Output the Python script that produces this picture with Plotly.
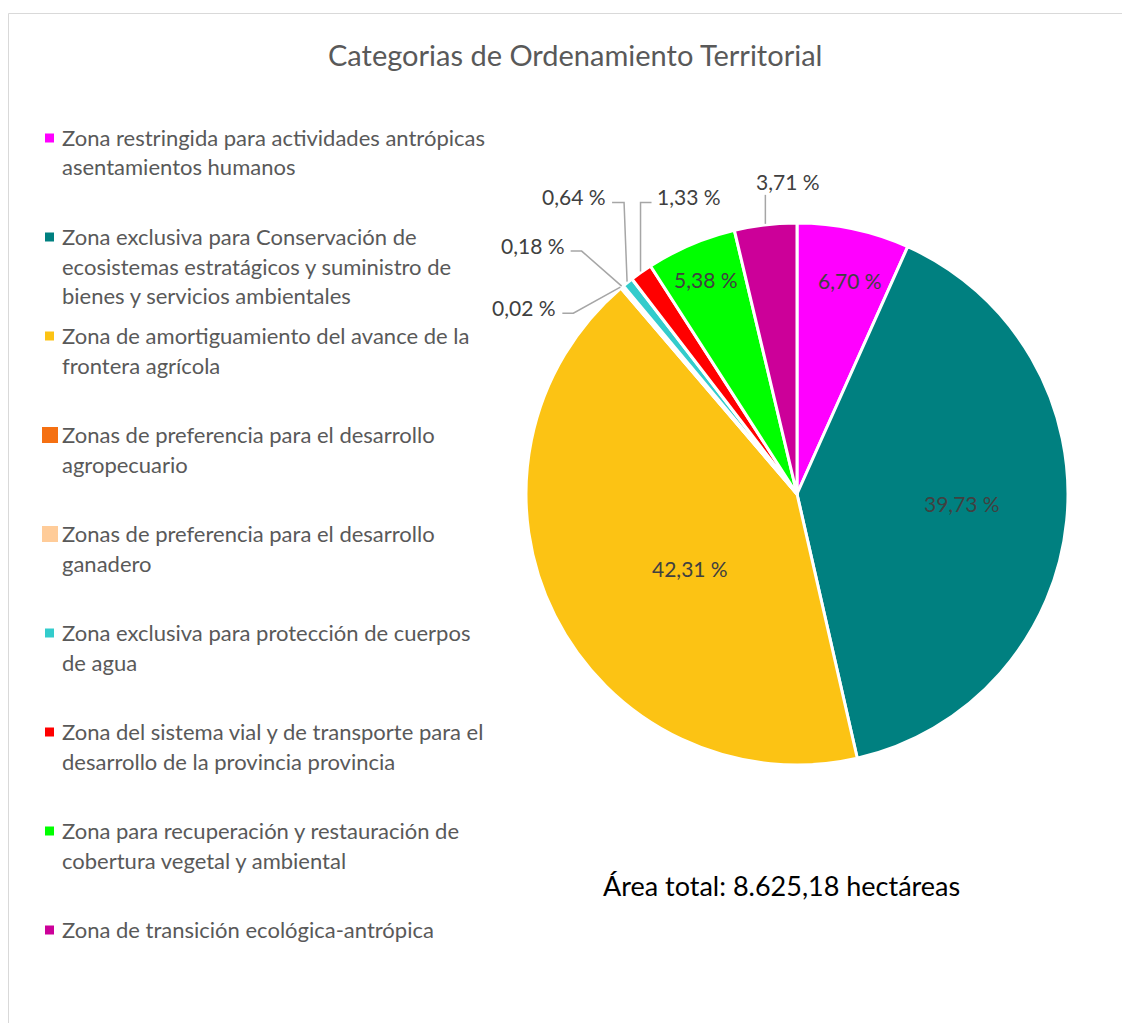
import math
import plotly.graph_objects as go

# ---------------- data ----------------
categories = [
    "Zona restringida para actividades antrópicas asentamientos humanos",
    "Zona exclusiva para Conservación de ecosistemas estratágicos y suministro de bienes y servicios ambientales",
    "Zona de amortiguamiento del avance de la frontera agrícola",
    "Zonas de preferencia para el desarrollo agropecuario",
    "Zonas de preferencia para el desarrollo ganadero",
    "Zona exclusiva para protección de cuerpos de agua",
    "Zona del sistema vial y de transporte para el desarrollo de la provincia provincia",
    "Zona para recuperación y restauración de cobertura vegetal y ambiental",
    "Zona de transición ecológica-antrópica",
]
legend_lines = [
    ["Zona restringida para actividades antrópicas", "asentamientos humanos"],
    ["Zona exclusiva para Conservación de", "ecosistemas estratágicos y suministro de", "bienes y servicios ambientales"],
    ["Zona de amortiguamiento del avance de la", "frontera agrícola"],
    ["Zonas de preferencia para el desarrollo", "agropecuario"],
    ["Zonas de preferencia para el desarrollo", "ganadero"],
    ["Zona exclusiva para protección de cuerpos", "de agua"],
    ["Zona del sistema vial y de transporte para el", "desarrollo de la provincia provincia"],
    ["Zona para recuperación y restauración de", "cobertura vegetal y ambiental"],
    ["Zona de transición ecológica-antrópica"],
]
percentages = [6.70, 39.73, 42.31, 0.02, 0.18, 0.64, 1.33, 5.38, 3.71]
colors = ["#FF00FF", "#008080", "#FCC314", "#F57012", "#FFCC99",
          "#33CCCC", "#FF0000", "#00FF00", "#CC0099"]
title_text = "Categorias de Ordenamiento Territorial"
total_text = "Área total: 8.625,18 hectáreas"

# ---------------- layout helpers ----------------
PAGE_OFF = 8                      # default page body margin
W, H = 1130 - PAGE_OFF, 1023 - PAGE_OFF
FONT = "Lato, 'Open Sans', sans-serif"
GREY = "#595959"
DARK = "#404040"


def px(x):
    return (x - PAGE_OFF) / W


def py(y):
    return 1 - (y - PAGE_OFF) / H


CX, CY, R = 797, 494, 271  # pie centre / radius in page pixels

labels_txt = [f"{v:.2f}".replace(".", ",") + " %" for v in percentages]

fig = go.Figure()
fig.add_trace(go.Pie(
    labels=categories,
    values=percentages,
    textinfo="none",
    sort=False,
    direction="clockwise",
    rotation=0,
    marker=dict(colors=colors, line=dict(color="white", width=3)),
    domain=dict(x=[px(CX - R), px(CX + R)], y=[py(CY + R), py(CY - R)]),
    showlegend=False,
    hoverinfo="label+percent",
))

annotations = []
shapes = []

# inside labels: (radius fraction, angle nudge in degrees)
inside_style = {0: (0.81, 1.8), 1: (0.61, -2.5), 2: (0.48, -8.0), 7: (0.86, 0.0)}
# outside labels with elbow leader lines, anchored on the rim at the slice mid-angle
outside_style = {
    3: dict(t=(-96, 20), elbow=(-47, 26), end=(-58, 26)),
    4: dict(t=(-89, -41), elbow=(-40, -35), end=(-51, -35)),
    5: dict(t=(-53, -85), elbow=(-3, -79), end=(-15, -79)),
    6: dict(t=(48, -75), elbow=(0, -69), end=(11, -69)),
    8: dict(t=(23, -42), elbow=(0, -2), end=(0, -29)),
}
total = sum(percentages)
cum = 0.0
for i, v in enumerate(percentages):
    mid = (cum + v / 2) / total * 2 * math.pi
    cum += v
    if i in inside_style:
        frac, nud = inside_style[i]
        a = mid + math.radians(nud)
        tx = CX + frac * R * math.sin(a)
        ty = CY - frac * R * math.cos(a)
        annotations.append(dict(x=px(tx), y=py(ty), xref="paper", yref="paper",
                                text=labels_txt[i], showarrow=False,
                                font=dict(family=FONT, size=21, color=DARK),
                                xanchor="center", yanchor="middle"))
        continue
    st = outside_style[i]
    ex = CX + (R + 1) * math.sin(mid)
    ey = CY - (R + 1) * math.cos(mid)
    tx, ty = ex + st["t"][0], ey + st["t"][1]
    bx, by = ex + st["elbow"][0], ey + st["elbow"][1]
    lx, ly = ex + st["end"][0], ey + st["end"][1]
    path = f"M {px(ex)},{py(ey)} L {px(bx)},{py(by)} L {px(lx)},{py(ly)}"
    shapes.append(dict(type="path", xref="paper", yref="paper", path=path,
                       line=dict(color="#A6A6A6", width=1.5)))
    annotations.append(dict(x=px(tx), y=py(ty), xref="paper", yref="paper",
                            text=labels_txt[i], showarrow=False,
                            font=dict(family=FONT, size=21, color=DARK),
                            xanchor="center", yanchor="middle"))

# manual legend: square marker + wrapped lines
LEG_X, LEG_Y0, LEG_STEP, LINE_H = 60, 137, 99, 30
for i, lines in enumerate(legend_lines):
    y0 = LEG_Y0 + i * LEG_STEP
    big = i in (3, 4)
    s = 8 if big else 4.5
    mx = 50 if big else 49.5
    my = y0 + 1
    shapes.append(dict(type="rect", xref="paper", yref="paper",
                       x0=px(mx - s), x1=px(mx + s), y0=py(my + s), y1=py(my - s),
                       fillcolor=colors[i], line=dict(width=0)))
    for j, ln in enumerate(lines):
        annotations.append(dict(x=px(LEG_X), y=py(y0 + j * LINE_H), xref="paper", yref="paper",
                                text=ln, showarrow=False, xanchor="left", yanchor="middle",
                                font=dict(family=FONT, size=22, color=GREY)))

# title and total area
annotations.append(dict(x=px(575), y=py(54), xref="paper", yref="paper", text=title_text,
                        showarrow=False, xanchor="center", yanchor="middle",
                        font=dict(family=FONT, size=29, color=GREY)))
annotations.append(dict(x=px(781), y=py(885), xref="paper", yref="paper", text=total_text,
                        showarrow=False, xanchor="center", yanchor="middle",
                        font=dict(family=FONT, size=27, color="#000000")))

# chart frame
shapes.append(dict(type="rect", xref="paper", yref="paper",
                   x0=px(8.5), x1=px(1140), y0=py(1040), y1=py(13.5),
                   line=dict(color="#D9D9D9", width=1), fillcolor="rgba(0,0,0,0)"))

fig.update_layout(
    width=W, height=H,
    margin=dict(l=0, r=0, t=0, b=0),
    paper_bgcolor="white",
    plot_bgcolor="white",
    annotations=annotations,
    shapes=shapes,
    showlegend=False,
)

fig.write_html("out.html")
